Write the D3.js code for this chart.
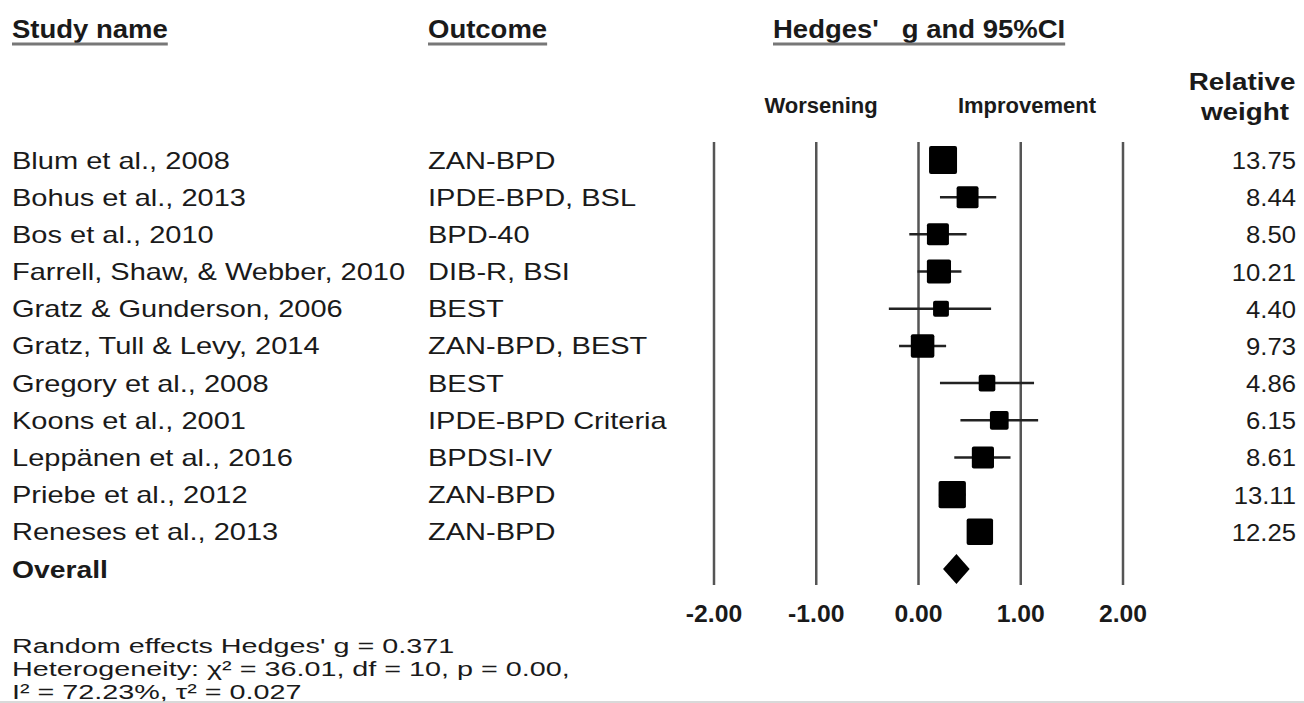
<!DOCTYPE html>
<html>
<head>
<meta charset="utf-8">
<script src="https://cdn.jsdelivr.net/npm/d3@7"></script>
<style>
  body { margin: 0; background: #fff; }
  svg { display: block; font-family: "Liberation Sans", Arial, sans-serif; }
</style>
</head>
<body>
<div id="chart"></div>
<script>
// Study rows
const studies = [
  "Blum et al., 2008",
  "Bohus et al., 2013",
  "Bos et al., 2010",
  "Farrell, Shaw, & Webber, 2010",
  "Gratz & Gunderson, 2006",
  "Gratz, Tull & Levy, 2014",
  "Gregory et al., 2008",
  "Koons et al., 2001",
  "Leppänen et al., 2016",
  "Priebe et al., 2012",
  "Reneses et al., 2013"
];
const outcomes = [
  "ZAN-BPD", "IPDE-BPD, BSL", "BPD-40", "DIB-R, BSI", "BEST",
  "ZAN-BPD, BEST", "BEST", "IPDE-BPD Criteria", "BPDSI-IV", "ZAN-BPD", "ZAN-BPD"
];
const hedgesG = [0.24, 0.48, 0.19, 0.20, 0.22, 0.04, 0.67, 0.79, 0.63, 0.33, 0.60];
const ciLow   = [0.12, 0.21, -0.09, -0.01, -0.29, -0.19, 0.21, 0.41, 0.35, 0.20, 0.48];
const ciHigh  = [0.36, 0.76, 0.47, 0.42, 0.71, 0.27, 1.13, 1.17, 0.90, 0.46, 0.72];
const weights = [13.75, 8.44, 8.50, 10.21, 4.40, 9.73, 4.86, 6.15, 8.61, 13.11, 12.25];

// Overall
const overallG = 0.371;
const overallCI = [0.24, 0.50];
const xTicks = [-2, -1, 0, 1, 2];
const footLines = [
  "Random effects Hedges' g = 0.371",
  "Heterogeneity: \u03C7\u00B2 = 36.01, df = 10, p = 0.00,",
  "I\u00B2 = 72.23%, \u03C4\u00B2 = 0.027"
];

const W = 1304, H = 703;
const svg = d3.select("#chart").append("svg").attr("width", W).attr("height", H);

const x = d3.scaleLinear().domain([-2, 2]).range([714, 1123]);
const y = d3.scalePoint().domain(d3.range(studies.length + 1)).range([160, 569]);
const side = d3.scaleSqrt().domain([0, 13.75]).range([0, 28]);

const textCol = "#1a1a1a";

// text with a horizontal stretch, the source figure is wider than it is tall
function label(parent, x0, y0, txt, opts = {}) {
  const sx = opts.sx || 1;
  return parent.append("text")
    .attr("transform", `translate(${x0},${y0}) scale(${sx},1)`)
    .attr("font-size", opts.size || 24)
    .attr("font-weight", opts.bold ? "bold" : "normal")
    .attr("text-anchor", opts.anchor || "start")
    .attr("fill", textCol)
    .text(txt);
}

// Headers
function header(txt, x0, yb) {
  const sx = 1.1;
  const t = label(svg, x0, yb, txt, { size: 25, bold: true, sx });
  const w = t.node().getComputedTextLength() * sx;
  svg.append("line")
    .attr("x1", x0).attr("x2", x0 + w)
    .attr("y1", yb + 6).attr("y2", yb + 6)
    .attr("stroke", "#777").attr("stroke-width", 3);
}
header("Study name", 12, 38);
header("Outcome", 428, 38);
header("Hedges'\u00A0\u00A0\u00A0g and 95%CI", 773, 38);

label(svg, 821, 113, "Worsening", { size: 22, bold: true, anchor: "middle" });
label(svg, 1027, 113, "Improvement", { size: 22, bold: true, anchor: "middle" });
label(svg, 1242, 90, "Relative", { size: 24, bold: true, anchor: "middle", sx: 1.16 });
label(svg, 1245, 120, "weight", { size: 24, bold: true, anchor: "middle", sx: 1.16 });

// Vertical reference lines
svg.append("g").selectAll("line").data(xTicks).join("line")
  .attr("x1", d => x(d)).attr("x2", d => x(d))
  .attr("y1", 142).attr("y2", 585)
  .attr("stroke", "#555").attr("stroke-width", 2.5);

// Tick labels
const tickG = svg.append("g");
xTicks.forEach(d => {
  label(tickG, x(d), 622, d3.format(".2f")(d).replace("\u2212", "-"),
    { size: 24, bold: true, anchor: "middle", sx: 1.03 });
});

// Rows
const rowG = svg.append("g");
studies.forEach((s, i) => {
  const yy = y(i);
  label(rowG, 12, yy + 8.5, s, { sx: 1.21 });
  label(rowG, 428, yy + 8.5, outcomes[i], { sx: 1.21 });
  label(rowG, 1296, yy + 9, d3.format(".2f")(weights[i]), { anchor: "end", sx: 1.07 });
});

const marks = svg.append("g").selectAll("g").data(studies).join("g");
marks.append("line")
  .attr("x1", (d, i) => x(ciLow[i])).attr("x2", (d, i) => x(ciHigh[i]))
  .attr("y1", (d, i) => y(i)).attr("y2", (d, i) => y(i))
  .attr("stroke", "#222").attr("stroke-width", 2.5);
marks.append("rect")
  .attr("x", (d, i) => x(hedgesG[i]) - side(weights[i]) / 2)
  .attr("y", (d, i) => y(i) - side(weights[i]) / 2)
  .attr("width", (d, i) => side(weights[i]))
  .attr("height", (d, i) => side(weights[i]))
  .attr("rx", 2)
  .attr("fill", "#000");

// Overall row
const yo = y(studies.length);
label(svg, 12, yo + 8.5, "Overall", { bold: true, sx: 1.18 });
svg.append("path")
  .attr("d", `M${x(overallCI[0])},${yo} L${x(overallG)},${yo - 15} L${x(overallCI[1])},${yo} L${x(overallG)},${yo + 15} Z`)
  .attr("fill", "#000");

// Footer stats
const footG = svg.append("g");
footLines.forEach((t, i) => label(footG, 12, 653 + i * 23, t, { size: 21, sx: 1.37 }));

svg.append("line").attr("x1", 0).attr("x2", W).attr("y1", 702).attr("y2", 702)
  .attr("stroke", "#ccc").attr("stroke-width", 1.5);
</script>
</body>
</html>
